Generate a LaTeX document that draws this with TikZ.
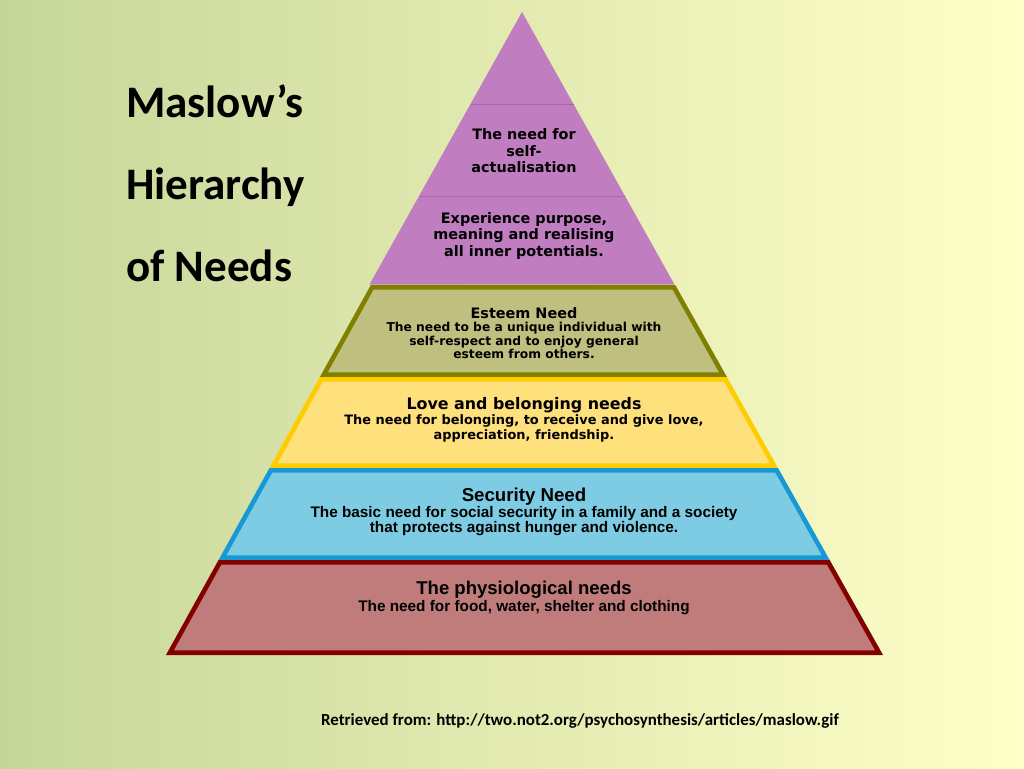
\documentclass[tikz,border=0pt]{standalone}
\usepackage{fontspec}
\setmainfont{Carlito}
\newfontfamily\pyr{DejaVu Sans}
\newfontfamily\low{Liberation Sans}
\definecolor{bgL}{HTML}{C6D699}
\definecolor{bgR}{HTML}{FFFFC9}
\definecolor{purpF}{HTML}{C07EC0}
\definecolor{purpL}{HTML}{A766A7}
\definecolor{estF}{HTML}{BFBF80}
\definecolor{estD}{HTML}{808000}
\definecolor{loveF}{HTML}{FEE07C}
\definecolor{loveD}{HTML}{FFCC00}
\definecolor{secF}{HTML}{7ECBE4}
\definecolor{secD}{HTML}{1898D4}
\definecolor{phyF}{HTML}{BF7C7B}
\definecolor{phyD}{HTML}{820000}
\newcommand\mylayer[4]{%
  \pgfmathsetmacro\ya{#1+2.3}\pgfmathsetmacro\yb{#2-2.3}%
  \pgfmathsetmacro\xa{522-(\ya-12)*0.5537+2.6}%
  \pgfmathsetmacro\xb{522+(\ya-12)*0.5614-2.6}%
  \pgfmathsetmacro\xc{522+(\yb-12)*0.5614-2.6}%
  \pgfmathsetmacro\xd{522-(\yb-12)*0.5537+2.6}%
  \filldraw[fill=#3,draw=#4,line width=3.45pt,line join=miter]
    (\xa,\ya) -- (\xb,\ya) -- (\xc,\yb) -- (\xd,\yb) -- cycle;}
\tikzset{
  title/.style={anchor=base west,font=\bfseries\fontsize{33.8}{34}\selectfont,inner sep=0},
  ptxt/.style={align=center,inner sep=0,font=\pyr\bfseries\fontsize{10.8}{12.4}\selectfont},
  etxt/.style={align=center,inner sep=0,font=\pyr\bfseries\fontsize{9.2}{10}\selectfont},
  vtxt/.style={align=center,inner sep=0,font=\pyr\bfseries\fontsize{9.7}{11.4}\selectfont},
  ltxt/.style={align=center,inner sep=0,font=\low\bfseries\fontsize{11.5}{11.2}\selectfont},
}
\begin{document}
\begin{tikzpicture}[x=0.75pt,y=-0.75pt]
\useasboundingbox (0,0) rectangle (1024,768);
\shade[left color=bgL,right color=bgR] (0,0) rectangle (1024,768);
% top triangle
\fill[purpF] (522,12) -- (674.5,284.5) -- (369.5,284.5) -- cycle;
\draw[purpL,line width=0.6pt] (471.1,104) -- (573.6,104);
\draw[purpL,line width=0.6pt] (420.1,196) -- (625.3,196);
\mylayer{285}{377}{estF}{estD}
\mylayer{377}{468}{loveF}{loveD}
\mylayer{468}{560}{secF}{secD}
\mylayer{560}{655}{phyF}{phyD}
% title
\node[title] (t1) at (126,117) {Maslow’s};
\node[title] (t2) at (126,199) {Hierarchy};
\node[title] (t3) at (126,281) {of Needs};
% pyramid texts
\node[ptxt] (sa) at (524,151) {The need for\\self-\\actualisation};
\node[ptxt] (ex) at (524,236) {Experience purpose,\\meaning and realising\\all inner potentials.};
\node[etxt] (es) at (524,333) {{\fontsize{10.8}{10}\selectfont Esteem Need}\\The need to be a unique individual with\\self-respect and to enjoy general\\esteem from others.};
\node[vtxt] (lo) at (524,420) {{\fontsize{11.9}{11.4}\selectfont Love and belonging needs}\\The need for belonging, to receive and give love,\\appreciation, friendship.};
\node[ltxt] (se) at (524,512) {{\fontsize{14}{11.2}\selectfont Security Need}\\The basic need for social security in a family and a society\\that protects against hunger and violence.};
\node[ltxt] (ph) at (524,598) {{\fontsize{13.9}{11.2}\selectfont The physiological needs}\\The need for food, water, shelter and clothing};
\node[anchor=base,inner sep=0,font=\bfseries\fontsize{12.7}{13}\selectfont] (src) at (580,725) {Retrieved from: http://two.not2.org/psychosynthesis/articles/maslow.gif};
\end{tikzpicture}
\end{document}
